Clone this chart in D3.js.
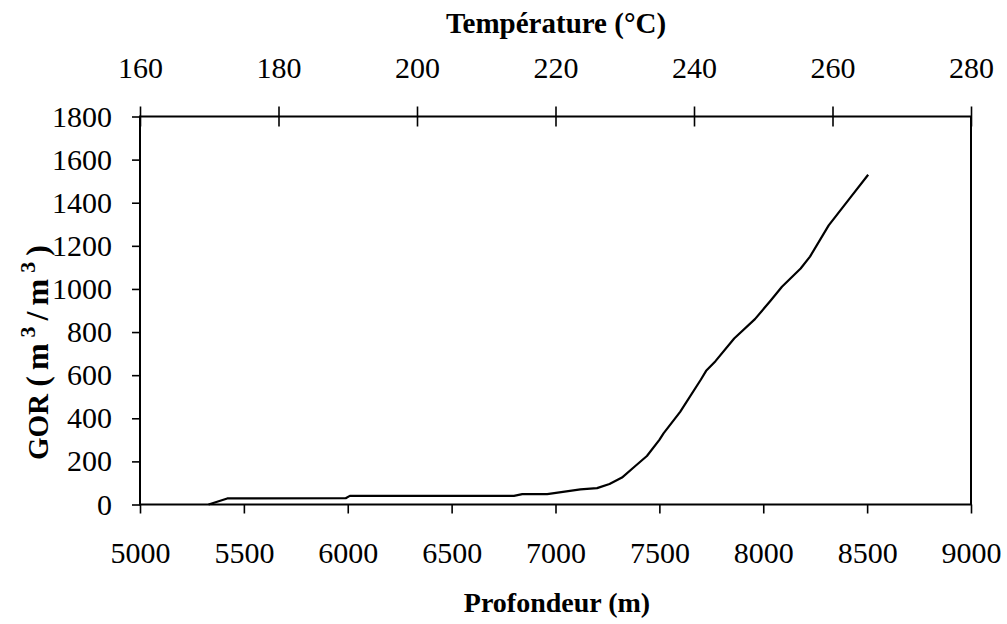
<!DOCTYPE html>
<html>
<head>
<meta charset="utf-8">
<script src="https://cdn.jsdelivr.net/npm/d3@7"></script>
<style>
  body { margin: 0; background: #fff; }
  svg { display: block; }
</style>
</head>
<body>
<div id="chart"></div>
<script>
// GOR vs depth
const depth = [5330, 5420, 5990, 6010, 6800, 6840, 6960, 7120, 7200, 7260, 7320, 7380, 7440, 7500, 7520, 7600, 7700, 7725, 7770, 7860, 7960, 8035, 8090, 8180, 8225, 8315, 8420, 8505];
const gor   = [0,    28,   29,   40,   40,   48,   48,   70,   76,   95,   125,  175,  225,  300,  330,  430,  580,  620,  665,  770,  860,  945,  1010, 1095, 1150, 1295, 1425, 1530];

const depthTicks = [5000, 5500, 6000, 6500, 7000, 7500, 8000, 8500, 9000];
const tempTicks = [160, 180, 200, 220, 240, 260, 280];
const gorTicks = [0, 200, 400, 600, 800, 1000, 1200, 1400, 1600, 1800];

const width = 1007, height = 624;
const plot = { left: 140, right: 971, top: 116.5, bottom: 504.5 };
const font = '"Liberation Serif", "Times New Roman", serif';

const svg = d3.select('#chart').append('svg')
    .attr('width', width)
    .attr('height', height)
    .style('font-family', font);

const x = d3.scaleLinear().domain([5000, 9000]).range([plot.left, plot.right]);
const xTemp = d3.scaleLinear().domain([160, 280]).range([plot.left, plot.right]);
const y = d3.scaleLinear().domain([0, 1800]).range([plot.bottom, plot.top]);

// Bottom axis (depth)
const gx = svg.append('g')
    .attr('transform', `translate(0,${plot.bottom})`)
    .call(d3.axisBottom(x).tickValues(depthTicks).tickSize(9).tickPadding(28).tickFormat(d3.format('d')));

// Top axis (temperature)
const gt = svg.append('g')
    .attr('transform', `translate(0,${plot.top})`)
    .call(d3.axisTop(xTemp).tickValues(tempTicks).tickSize(10).tickPadding(29).tickFormat(d3.format('d')));
gt.selectAll('.tick line').attr('y1', -10).attr('y2', 10);

// Left axis (GOR)
const gy = svg.append('g')
    .attr('transform', `translate(${plot.left},0)`)
    .call(d3.axisLeft(y).tickValues(gorTicks).tickSize(8).tickPadding(20).tickFormat(d3.format('d')));

[gx, gt, gy].forEach(g => {
    g.select('.domain').remove();
    g.selectAll('.tick line').attr('stroke', '#000').attr('stroke-width', 1.6);
    g.selectAll('text')
        .attr('fill', '#000')
        .style('font-family', font)
        .style('font-size', '30px');
});

// Frame
svg.append('rect')
    .attr('x', plot.left)
    .attr('y', plot.top)
    .attr('width', plot.right - plot.left)
    .attr('height', plot.bottom - plot.top)
    .attr('fill', 'none')
    .attr('stroke', '#000')
    .attr('stroke-width', 2);

// Curve
const line = d3.line()
    .x((d, i) => x(depth[i]))
    .y((d, i) => y(gor[i]));

svg.append('path')
    .datum(gor)
    .attr('fill', 'none')
    .attr('stroke', '#000')
    .attr('stroke-width', 2.2)
    .attr('stroke-linejoin', 'round')
    .attr('d', line);

// Axis titles
svg.append('text')
    .attr('x', 556)
    .attr('y', 33)
    .attr('text-anchor', 'middle')
    .style('font-size', '29px')
    .style('font-weight', 'bold')
    .text('Température (°C)');

svg.append('text')
    .attr('x', 557)
    .attr('y', 612)
    .attr('text-anchor', 'middle')
    .style('font-size', '28px')
    .style('font-weight', 'bold')
    .text('Profondeur (m)');

const yl = svg.append('text')
    .attr('transform', 'translate(48,460) rotate(-90)')
    .attr('text-anchor', 'start')
    .style('font-size', '29px')
    .style('font-weight', 'bold');
yl.append('tspan').text('GOR ');
const unit = yl.append('tspan').style('font-size', '32px').style('letter-spacing', '6px');
unit.append('tspan').text('(m');
unit.append('tspan').attr('dy', -13).style('font-size', '22px').text('3');
unit.append('tspan').attr('dy', 13).text('/m');
unit.append('tspan').attr('dy', -13).style('font-size', '22px').text('3');
unit.append('tspan').attr('dy', 13).text(')');
</script>
</body>
</html>
